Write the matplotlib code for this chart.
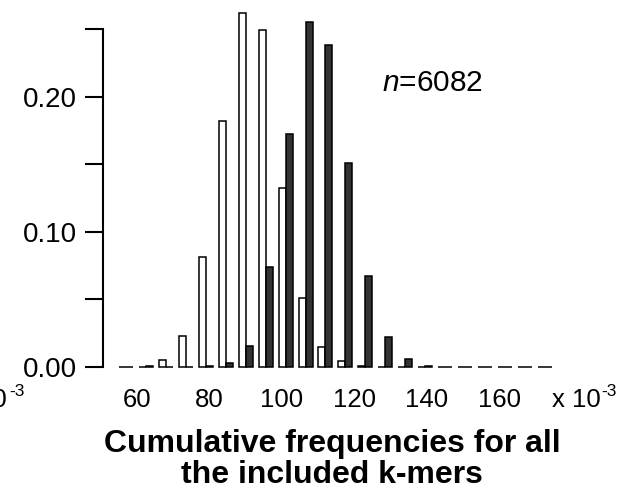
import matplotlib
matplotlib.use("Agg")
import matplotlib.pyplot as plt

plt.rcParams['font.family'] = ['Liberation Sans', 'DejaVu Sans']
plt.rcParams['mathtext.fontset'] = 'custom'
plt.rcParams['mathtext.rm'] = 'Liberation Sans'
plt.rcParams['mathtext.it'] = 'Liberation Sans:italic'
plt.rcParams['mathtext.bf'] = 'Liberation Sans:bold'

# bin centres (x 10^-3)
bin_centers = [57.0, 62.5, 68.0, 73.5, 79.0, 84.5, 90.0, 95.5, 101.0, 106.5, 112.0,
               117.5, 123.0, 128.5, 134.0, 139.5, 145.0, 150.5, 156.0, 161.5, 167.0, 172.5]
white_vals = [0.0, 0.0, 0.005, 0.023, 0.081, 0.182, 0.2615, 0.2496, 0.1323, 0.0513, 0.0146,
              0.0044, 0.0008, 0.0, 0.0, 0.0, 0.0, 0.0, 0.0, 0.0, 0.0, 0.0]
dark_vals = [0.0, 0.0008, 0.0, 0.0, 0.0005, 0.003, 0.0156, 0.0743, 0.1726, 0.255, 0.2378,
             0.1509, 0.0674, 0.022, 0.0059, 0.0006, 0.0, 0.0, 0.0, 0.0, 0.0, 0.0]
xtick_vals = [60, 80, 100, 120, 140, 160]
ytick_vals = [0.0, 0.05, 0.10, 0.15, 0.20, 0.25]
ytick_labels = ['0.00', '', '0.10', '', '0.20', '']

W, H = 633, 495
fig = plt.figure(figsize=(W / 100, H / 100), dpi=100)
ax = fig.add_axes([103 / W, (H - 367) / H, (560 - 103) / W, (367 - 29) / H])

bw = 1.93
ax.bar([c - bw / 2 for c in bin_centers], white_vals, width=bw, color='white',
       edgecolor='black', linewidth=1.1, clip_on=False, zorder=3)
ax.bar([c + bw / 2 for c in bin_centers], dark_vals, width=bw, color='#333333',
       edgecolor='black', linewidth=1.1, clip_on=False, zorder=3)

ax.set_xlim(50.62, 176.7)
ax.set_ylim(0, 0.25)

for s in ['top', 'right', 'bottom']:
    ax.spines[s].set_visible(False)
ax.spines['left'].set_linewidth(1.5)

ax.set_yticks(ytick_vals)
ax.set_yticklabels(ytick_labels)
ax.tick_params(axis='y', length=13, width=1.5, pad=6, labelsize=20)
ax.set_xticks(xtick_vals)
ax.set_xticklabels([str(v) for v in xtick_vals])
ax.tick_params(axis='x', length=0, pad=15, labelsize=18.5)

# "x 10^-3" multiplier labels (right one and the clipped one at the left edge)
base_y = (H - 407) / H
sup_y = (H - 396) / H
fig.text(552 / W, base_y, 'x 10', fontsize=18.5, ha='left', va='baseline')
fig.text(601 / W, sup_y, '-3', fontsize=12.5, ha='left', va='baseline')
fig.text(7 / W, base_y, 'x 10', fontsize=18.5, ha='right', va='baseline')
fig.text(9 / W, sup_y, '-3', fontsize=12.5, ha='left', va='baseline')

fig.text(382 / W, (H - 91) / H, r'$\mathit{n}$=6082', fontsize=21.5, ha='left', va='baseline')

fig.text(332 / W, (H - 452) / H, 'Cumulative frequencies for all', fontsize=23,
         fontweight='bold', ha='center', va='baseline')
fig.text(332 / W, (H - 483) / H, 'the included k-mers', fontsize=23,
         fontweight='bold', ha='center', va='baseline')

fig.savefig('out.png', dpi=100)
